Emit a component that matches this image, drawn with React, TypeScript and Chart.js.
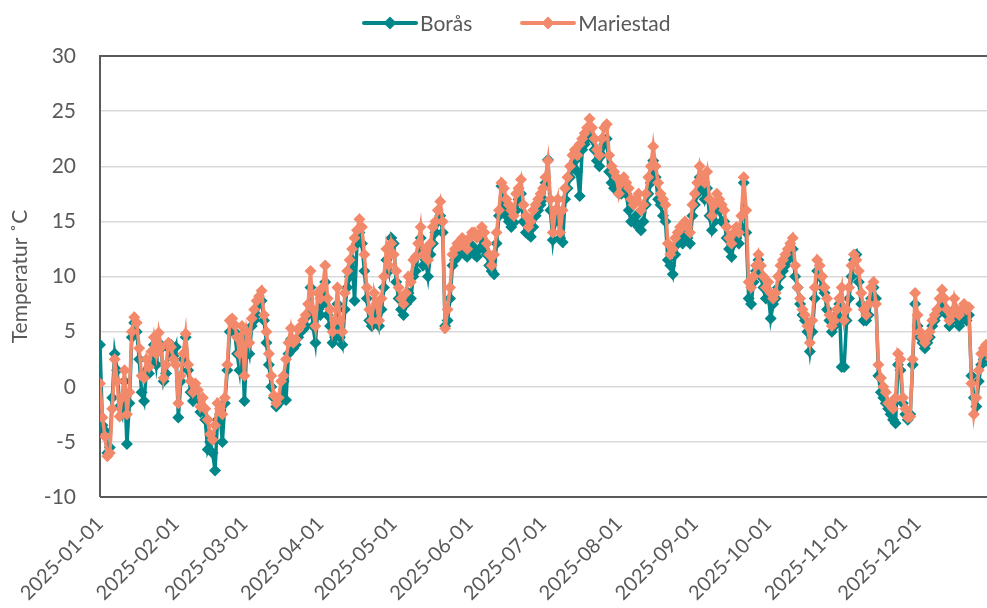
import React, { useEffect, useRef } from "react";
import { Chart, registerables } from "chart.js";

Chart.register(...registerables);

// Month starts (day index in 2025) and their tick labels
const monthStarts = [0, 31, 59, 90, 120, 151, 181, 212, 243, 273, 304, 334];
const monthLabels = [
  "2025-01-01", "2025-02-01", "2025-03-01", "2025-04-01", "2025-05-01", "2025-06-01",
  "2025-07-01", "2025-08-01", "2025-09-01", "2025-10-01", "2025-11-01", "2025-12-01",
];

// Borås, daily mean temperature (°C), per month
const borasJan = [3.8, -3.5, -4.0, -6.0, -5.5, -1.0, 3.0, 1.5, -1.8, -2.5, 0.5, -5.2, -1.5, 4.5, 5.8, 5.0, 2.5, -0.5, -1.3, 1.5, 1.2, 2.5, 3.8, 2.0, 4.0, 3.5, 0.5, 1.2, 3.5, 3.8, 2.8];
const borasFeb = [3.6, -2.8, 0.5, 2.5, 4.5, 1.5, -0.5, -1.3, -0.5, -1.0, -2.3, -2.0, -3.0, -5.7, -5.0, -6.0, -7.6, -3.0, -2.5, -5.0, -1.5, 1.5, 5.0, 5.8, 5.0, 3.0, 1.5, 4.5];
const borasMar = [-1.3, 4.0, 3.0, 5.5, 6.0, 6.5, 7.5, 7.8, 6.0, 4.0, 2.0, 0.0, -1.0, -1.8, -1.2, -1.3, 0.5, -1.2, 3.0, 4.3, 3.5, 3.8, 4.5, 5.0, 5.2, 5.5, 6.5, 9.0, 5.5, 4.0, 7.0];
const borasApr = [6.5, 7.5, 9.5, 6.5, 5.5, 4.0, 4.5, 7.5, 4.5, 3.8, 7.0, 9.0, 10.0, 11.5, 7.8, 13.0, 14.0, 13.0, 10.5, 8.0, 6.0, 5.5, 7.0, 6.5, 5.5, 7.0, 9.0, 11.5, 10.5, 13.5];
const borasMay = [13.0, 9.5, 8.0, 7.0, 6.5, 7.5, 8.5, 8.0, 10.0, 10.5, 12.0, 13.5, 11.0, 11.5, 10.0, 12.0, 13.0, 14.0, 15.0, 15.5, 14.0, 5.5, 6.0, 8.0, 11.0, 11.5, 12.2, 12.0, 12.5, 12.0, 11.8];
const borasJun = [12.5, 12.8, 12.0, 11.8, 12.5, 13.5, 12.5, 12.0, 11.0, 10.5, 10.2, 13.0, 15.5, 18.2, 16.0, 15.5, 15.0, 14.5, 14.9, 16.0, 17.0, 17.5, 15.0, 14.0, 13.8, 13.6, 14.5, 15.5, 16.0, 16.5];
const borasJul = [17.0, 18.5, 20.6, 16.0, 13.3, 15.0, 16.0, 13.5, 13.1, 17.0, 18.0, 19.0, 20.0, 20.5, 19.5, 17.3, 21.5, 22.0, 22.5, 23.0, 22.5, 21.5, 20.5, 20.0, 21.0, 22.0, 22.5, 19.5, 18.5, 18.0, 18.1];
const borasAug = [17.5, 17.5, 18.0, 17.5, 16.0, 15.0, 15.0, 15.5, 14.5, 14.2, 15.0, 16.5, 17.5, 18.5, 20.5, 19.0, 17.0, 16.5, 15.5, 15.0, 11.5, 11.0, 10.2, 12.0, 13.0, 13.5, 13.0, 14.0, 13.5, 13.0, 15.5];
const borasSep = [16.5, 17.5, 19.0, 18.0, 17.0, 18.0, 15.5, 14.2, 15.0, 16.5, 16.0, 15.0, 15.0, 13.5, 12.5, 11.8, 13.0, 13.5, 13.0, 14.5, 18.5, 14.0, 8.0, 7.5, 9.5, 10.5, 11.5, 10.0, 9.0, 8.0];
const borasOct = [8.5, 6.2, 7.5, 8.0, 9.0, 10.0, 10.5, 11.0, 11.5, 12.0, 12.5, 10.0, 9.0, 7.5, 6.5, 6.0, 5.0, 3.2, 5.0, 8.0, 10.5, 10.0, 9.0, 8.5, 7.0, 6.0, 5.0, 5.5, 6.5, 7.5, 1.8];
const borasNov = [1.8, 6.0, 8.0, 10.0, 11.5, 12.0, 9.5, 7.5, 6.0, 6.0, 6.5, 8.0, 9.0, 8.0, 1.0, -0.5, -1.0, -1.5, -2.0, -2.5, -3.0, -3.3, 2.0, 1.5, -1.5, -2.5, -3.0, -2.5, 2.0, 7.5];
const borasDec = [5.5, 4.5, 4.0, 3.5, 4.0, 4.5, 5.5, 6.0, 6.5, 7.0, 8.0, 7.0, 6.5, 5.5, 6.0, 7.0, 6.0, 5.5, 6.0, 6.5, 6.0, 6.5, 1.0, -1.0, -1.8, 0.5, 2.0, 2.5, 3.0, 2.5, 2.0];

// Mariestad, daily mean temperature (°C), per month
const mariJan = [0.3, -2.8, -4.5, -6.3, -6.0, -2.0, 2.5, 0.5, -2.7, -1.0, 1.5, -2.5, -0.5, 5.0, 6.3, 5.8, 3.5, 1.0, 0.8, 2.5, 1.8, 3.2, 4.5, 3.0, 4.9, 3.6, 0.8, 2.0, 4.0, 3.6, 2.5];
const mariFeb = [2.0, -1.5, 1.0, 3.0, 4.8, 2.0, 0.5, -0.5, 0.3, -0.3, -1.8, -1.0, -2.0, -3.0, -4.3, -4.8, -3.5, -1.5, -2.0, -2.5, -1.0, 2.0, 6.0, 6.2, 5.6, 4.5, 3.0, 5.5];
const mariMar = [1.0, 5.0, 4.0, 6.2, 7.0, 7.8, 8.2, 8.7, 6.5, 5.0, 3.0, 1.0, -0.8, -1.5, -1.0, 0.5, 1.0, 2.5, 4.0, 5.3, 4.0, 4.3, 5.2, 5.5, 6.0, 6.5, 7.5, 10.5, 7.0, 5.5, 8.5];
const mariApr = [8.0, 9.0, 11.0, 8.0, 7.0, 5.0, 6.0, 9.0, 6.0, 5.0, 8.5, 10.5, 11.5, 12.5, 13.5, 14.2, 15.2, 14.5, 12.0, 9.0, 7.0, 6.0, 8.5, 7.5, 6.0, 8.0, 10.0, 12.5, 11.0, 13.0];
const mariMay = [12.0, 10.5, 9.0, 8.0, 7.5, 8.5, 10.0, 9.5, 11.5, 11.8, 13.0, 14.5, 12.0, 12.5, 11.5, 13.0, 14.5, 15.0, 16.0, 16.8, 15.0, 5.3, 7.0, 9.0, 12.0, 12.5, 13.0, 12.8, 13.5, 13.2, 12.5];
const mariJun = [13.5, 14.0, 14.0, 13.5, 13.8, 14.5, 14.0, 13.0, 12.0, 11.0, 12.0, 14.0, 16.0, 18.5, 18.0, 17.0, 16.5, 16.0, 15.5, 17.5, 18.0, 18.8, 16.5, 15.5, 14.5, 15.0, 16.0, 16.5, 17.0, 17.5];
const mariJul = [18.0, 19.0, 20.5, 17.0, 14.0, 16.0, 17.0, 14.0, 16.0, 18.0, 19.0, 20.0, 21.0, 21.5, 21.0, 22.0, 22.5, 23.0, 23.5, 24.3, 23.5, 22.5, 21.5, 21.0, 22.5, 23.5, 23.8, 21.0, 20.0, 19.5, 19.0];
const mariAug = [17.5, 18.5, 19.0, 18.5, 18.0, 17.0, 16.5, 17.0, 17.5, 16.0, 16.5, 17.5, 19.0, 20.0, 21.8, 20.0, 18.5, 17.5, 17.0, 16.5, 13.0, 12.0, 12.5, 13.5, 14.0, 14.5, 14.5, 15.0, 14.5, 14.0, 16.5];
const mariSep = [17.5, 18.5, 20.0, 19.0, 18.5, 19.5, 17.0, 15.5, 16.5, 17.5, 17.0, 16.5, 16.0, 14.5, 13.5, 13.0, 14.0, 14.5, 14.0, 15.5, 19.0, 16.0, 9.5, 9.0, 10.0, 11.0, 12.0, 11.0, 10.0, 9.0];
const mariOct = [9.5, 8.5, 8.0, 8.5, 10.0, 11.0, 11.5, 12.0, 12.5, 13.0, 13.5, 11.0, 9.0, 8.0, 7.0, 6.5, 5.5, 4.0, 6.0, 9.0, 11.5, 11.0, 10.0, 9.0, 8.0, 6.5, 5.5, 6.0, 7.0, 8.0, 9.0];
const mariNov = [6.0, 7.0, 9.0, 11.0, 12.0, 11.5, 10.5, 8.5, 7.0, 6.5, 7.5, 9.0, 9.5, 7.5, 2.0, 0.8, 0.0, -0.5, -1.5, -1.5, -2.0, -1.0, 3.0, 2.5, -1.0, -2.0, -2.8, -2.7, 2.5, 8.5];
const mariDec = [6.5, 5.0, 4.5, 4.0, 4.5, 5.0, 6.0, 6.5, 7.0, 8.0, 8.8, 8.0, 7.0, 6.0, 6.5, 8.0, 7.0, 6.5, 7.0, 7.5, 7.0, 7.2, 0.3, -2.5, -1.0, 1.5, 3.0, 3.5, 3.8, 3.0, 2.5];

const boras = [
  ...borasJan, ...borasFeb, ...borasMar, ...borasApr, ...borasMay, ...borasJun,
  ...borasJul, ...borasAug, ...borasSep, ...borasOct, ...borasNov, ...borasDec,
];
const mariestad = [
  ...mariJan, ...mariFeb, ...mariMar, ...mariApr, ...mariMay, ...mariJun,
  ...mariJul, ...mariAug, ...mariSep, ...mariOct, ...mariNov, ...mariDec,
];

const seriesNames = ["Borås", "Mariestad"];
const yTicks = { min: -10, max: 30, step: 5 };

const TEAL = "#00878A";
const SALMON = "#F2896A";
const TEXT = "#595959";
const FONT = "Lato, 'Open Sans', sans-serif";

const frameLines = {
  id: "frameLines",
  beforeDatasetsDraw(chart: any) {
    const { ctx, chartArea } = chart;
    ctx.save();
    ctx.strokeStyle = "#5A5A5A";
    ctx.lineWidth = 2;
    ctx.beginPath();
    ctx.moveTo(chartArea.left, chartArea.bottom);
    ctx.lineTo(chartArea.left, chartArea.top);
    ctx.lineTo(chartArea.right + 20, chartArea.top);
    ctx.moveTo(chartArea.left, chartArea.bottom);
    ctx.lineTo(chartArea.right + 20, chartArea.bottom);
    ctx.stroke();
    ctx.restore();
  },
};

function LegendMark({ color }: { color: string }) {
  return (
    <svg width="56" height="16" style={{ display: "block" }}>
      <line x1="2" y1="8" x2="54" y2="8" stroke={color} strokeWidth="4" strokeLinecap="round" />
      <polygon points="28,1.5 34.5,8 28,14.5 21.5,8" fill={color} />
    </svg>
  );
}

export default function App() {
  const canvasRef = useRef<HTMLCanvasElement | null>(null);

  useEffect(() => {
    const canvas = canvasRef.current;
    if (!canvas) return;
    const mk = (vals: number[]) => vals.map((v, i) => ({ x: i, y: v }));
    const chart = new Chart(canvas, {
      type: "line",
      data: {
        datasets: [
          {
            label: seriesNames[0],
            data: mk(boras),
            borderColor: TEAL,
            backgroundColor: TEAL,
            borderWidth: 3.5,
            pointStyle: "rectRot",
            pointRadius: 6,
            pointBorderWidth: 0,
            tension: 0,
            order: 1,
          },
          {
            label: seriesNames[1],
            data: mk(mariestad),
            borderColor: SALMON,
            backgroundColor: SALMON,
            borderWidth: 3.5,
            pointStyle: "rectRot",
            pointRadius: 6,
            pointBorderWidth: 0,
            tension: 0,
            order: 0,
          },
        ],
      },
      options: {
        responsive: false,
        animation: false,
        devicePixelRatio: 1,
        layout: { padding: { top: 56, right: 9, left: 0, bottom: 0 } },
        plugins: {
          legend: { display: false },
          tooltip: { enabled: false },
        },
        events: [],
        scales: {
          x: {
            type: "linear",
            min: 0,
            max: 364,
            afterBuildTicks: (scale: any) => {
              scale.ticks = monthStarts.map((v) => ({ value: v }));
            },
            afterFit: (scale: any) => {
              scale.height = 111;
            },
            grid: { display: false, drawTicks: false },
            border: { display: false },
            ticks: {
              autoSkip: false,
              minRotation: 45,
              maxRotation: 45,
              padding: 15,
              color: TEXT,
              font: { family: FONT, size: 20 },
              callback: (v: any) => {
                const idx = monthStarts.indexOf(Number(v));
                return idx >= 0 ? monthLabels[idx] : "";
              },
            },
          },
          y: {
            min: yTicks.min,
            max: yTicks.max,
            afterFit: (scale: any) => {
              scale.width = 100;
            },
            grid: { color: "#D9D9D9", lineWidth: 1.5, drawTicks: false },
            border: { display: false },
            ticks: {
              stepSize: yTicks.step,
              padding: 24,
              color: TEXT,
              font: { family: FONT, size: 21 },
            },
            title: {
              display: true,
              text: "Temperatur ˚C",
              color: TEXT,
              font: { family: FONT, size: 21 },
              padding: { top: 8, bottom: 0 },
            },
          },
        },
      },
      plugins: [frameLines],
    });
    return () => chart.destroy();
  }, []);

  return (
    <div
      style={{
        position: "fixed",
        left: 0,
        top: 0,
        width: 987,
        height: 608,
        overflow: "hidden",
        background: "#fff",
      }}
    >
      <canvas ref={canvasRef} width={1000} height={608} style={{ display: "block" }} />
      <div
        style={{
          position: "absolute",
          left: 362,
          top: 10,
          display: "flex",
          alignItems: "center",
          fontFamily: FONT,
          fontSize: 21,
          color: TEXT,
          lineHeight: "26px",
        }}
      >
        <LegendMark color={TEAL} />
        <span style={{ marginLeft: 2 }}>{seriesNames[0]}</span>
        <span style={{ width: 48 }} />
        <LegendMark color={SALMON} />
        <span style={{ marginLeft: 2 }}>{seriesNames[1]}</span>
      </div>
    </div>
  );
}
